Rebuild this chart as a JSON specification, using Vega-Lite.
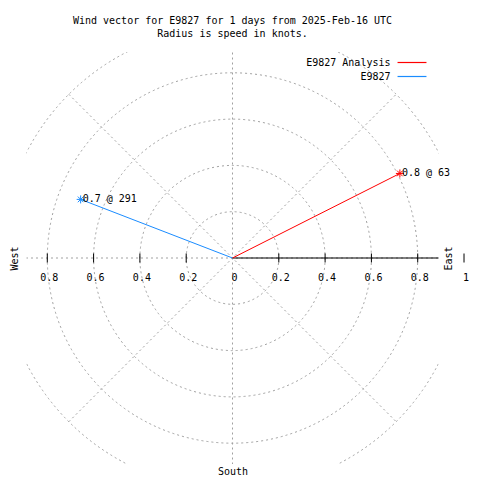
{
  "$schema": "https://vega.github.io/schema/vega-lite/v6.json",
  "width": 412,
  "height": 412,
  "autosize": {"type": "none"},
  "padding": {"left": 26.5, "top": 52, "right": 41.5, "bottom": 16},
  "background": "white",
  "config": {
    "view": {"stroke": null},
    "font": "DejaVu Sans Mono",
    "text": {"font": "DejaVu Sans Mono", "fontSize": 10, "color": "black"}
  },
  "title": {
    "text": ["Wind vector for E9827 for 1 days from 2025-Feb-16 UTC", "Radius is speed in knots."],
    "font": "DejaVu Sans Mono",
    "fontSize": 10,
    "fontWeight": "normal",
    "lineHeight": 13,
    "offset": 13,
    "color": "black"
  },
  "datasets": {
    "rings": [{"r": 0.2}, {"r": 0.4}, {"r": 0.6}, {"r": 0.8}, {"r": 1.0}],
    "spokes": [
      {"xa": -1, "ya": 0, "xb": 1, "yb": 0},
      {"xa": 0, "ya": -1, "xb": 0, "yb": 1},
      {"xa": -0.7071, "ya": -0.7071, "xb": 0.7071, "yb": 0.7071},
      {"xa": -0.7071, "ya": 0.7071, "xb": 0.7071, "yb": -0.7071}
    ],
    "axisline": [{"from": 0, "to": 1, "level": 0}],
    "ticks": [
      {"t": -0.8, "level": 0, "label": "0.8"},
      {"t": -0.6, "level": 0, "label": "0.6"},
      {"t": -0.4, "level": 0, "label": "0.4"},
      {"t": -0.2, "level": 0, "label": "0.2"},
      {"t": 0, "level": 0, "label": "0"},
      {"t": 0.2, "level": 0, "label": "0.2"},
      {"t": 0.4, "level": 0, "label": "0.4"},
      {"t": 0.6, "level": 0, "label": "0.6"},
      {"t": 0.8, "level": 0, "label": "0.8"},
      {"t": 1.0, "level": 0, "label": "1"}
    ],
    "vectors": [
      {"series": "E9827 Analysis", "u0": 0, "v0": 0, "u": 0.723, "v": 0.3652, "label": "0.8 @ 63"},
      {"series": "E9827", "u0": 0, "v0": 0, "u": -0.6559, "v": 0.2531, "label": "0.7 @ 291"}
    ]
  },
  "resolve": {"axis": {"x": "independent", "y": "independent"}},
  "layer": [
    {
      "data": {"name": "rings"},
      "mark": {"type": "point", "shape": "circle", "filled": false, "stroke": "#a0a0a0", "strokeWidth": 1, "strokeDash": [2, 3], "opacity": 1, "clip": true},
      "encoding": {
        "size": {"field": "r", "type": "quantitative", "legend": null, "scale": {"type": "pow", "exponent": 2, "domain": [0, 1], "range": [0, 214369], "zero": true, "nice": false}}
      }
    },
    {
      "data": {"name": "spokes"},
      "mark": {"type": "rule", "stroke": "#a0a0a0", "strokeWidth": 1, "strokeDash": [2, 3], "clip": true},
      "encoding": {
        "x": {"field": "xa", "type": "quantitative", "scale": {"domain": [-0.8898, 0.8898], "nice": false, "zero": false},
          "axis": {"orient": "bottom", "title": "South", "domain": false, "ticks": false, "labels": false, "grid": false, "titleFont": "DejaVu Sans Mono", "titleFontSize": 10, "titleFontWeight": "normal", "titleColor": "black", "titlePadding": 2, "titleBaseline": "top"}},
        "y": {"field": "ya", "type": "quantitative", "scale": {"domain": [-0.8898, 0.8898], "nice": false, "zero": false},
          "axis": {"orient": "left", "title": "West", "domain": false, "ticks": false, "labels": false, "grid": false, "titleFont": "DejaVu Sans Mono", "titleFontSize": 10, "titleFontWeight": "normal", "titleColor": "black", "titlePadding": 7}},
        "x2": {"field": "xb"},
        "y2": {"field": "yb"}
      }
    },
    {
      "data": {"name": "axisline"},
      "mark": {"type": "rule", "stroke": "black", "strokeWidth": 1, "clip": true},
      "encoding": {
        "x": {"field": "from", "type": "quantitative", "axis": null},
        "x2": {"field": "to"},
        "y": {"field": "level", "type": "quantitative",
          "axis": {"orient": "right", "title": "East", "titleAngle": 270, "titleBaseline": "top", "domain": false, "ticks": false, "labels": false, "grid": false, "titleFont": "DejaVu Sans Mono", "titleFontSize": 10, "titleFontWeight": "normal", "titleColor": "black", "titlePadding": 5}}
      }
    },
    {
      "data": {"name": "ticks"},
      "transform": [{"filter": "datum.t != 0"}],
      "mark": {"type": "tick", "orient": "vertical", "size": 9, "thickness": 1, "color": "black", "opacity": 1},
      "encoding": {
        "x": {"field": "t", "type": "quantitative", "axis": null},
        "y": {"field": "level", "type": "quantitative", "axis": null}
      }
    },
    {
      "data": {"name": "ticks"},
      "mark": {"type": "text", "align": "center", "baseline": "middle", "dy": 20, "dx": 2, "font": "DejaVu Sans Mono", "fontSize": 10, "color": "black"},
      "encoding": {
        "x": {"field": "t", "type": "quantitative", "axis": null},
        "y": {"field": "level", "type": "quantitative", "axis": null},
        "text": {"field": "label"}
      }
    },
    {
      "data": {"name": "vectors"},
      "mark": {"type": "rule", "strokeWidth": 1},
      "encoding": {
        "x": {"field": "u0", "type": "quantitative", "axis": null},
        "y": {"field": "v0", "type": "quantitative", "axis": null},
        "x2": {"field": "u"},
        "y2": {"field": "v"},
        "color": {"field": "series", "type": "nominal",
          "scale": {"domain": ["E9827 Analysis", "E9827"], "range": ["#ff0000", "#1a8cff"]},
          "legend": {"orient": "none", "legendX": 380, "legendY": 5, "title": null, "symbolType": "M-3,0L3,0", "symbolSize": 93, "symbolStrokeWidth": 1.2, "symbolFillColor": "transparent", "symbolOpacity": 1, "labelAlign": "right", "labelOffset": -27, "labelFont": "DejaVu Sans Mono", "labelFontSize": 10, "labelColor": "black", "padding": 0, "rowPadding": 3}}
      }
    },
    {
      "data": {"name": "vectors"},
      "mark": {"type": "point", "shape": "M-1,0L1,0M0,-1L0,1M-0.7,-0.7L0.7,0.7M-0.7,0.7L0.7,-0.7", "filled": false, "size": 64, "strokeWidth": 1, "opacity": 1},
      "encoding": {
        "x": {"field": "u", "type": "quantitative", "axis": null},
        "y": {"field": "v", "type": "quantitative", "axis": null},
        "color": {"field": "series", "type": "nominal", "legend": null}
      }
    },
    {
      "data": {"name": "vectors"},
      "mark": {"type": "text", "align": "left", "baseline": "middle", "dx": 2, "font": "DejaVu Sans Mono", "fontSize": 10, "color": "black"},
      "encoding": {
        "x": {"field": "u", "type": "quantitative", "axis": null},
        "y": {"field": "v", "type": "quantitative", "axis": null},
        "text": {"field": "label"}
      }
    }
  ]
}
